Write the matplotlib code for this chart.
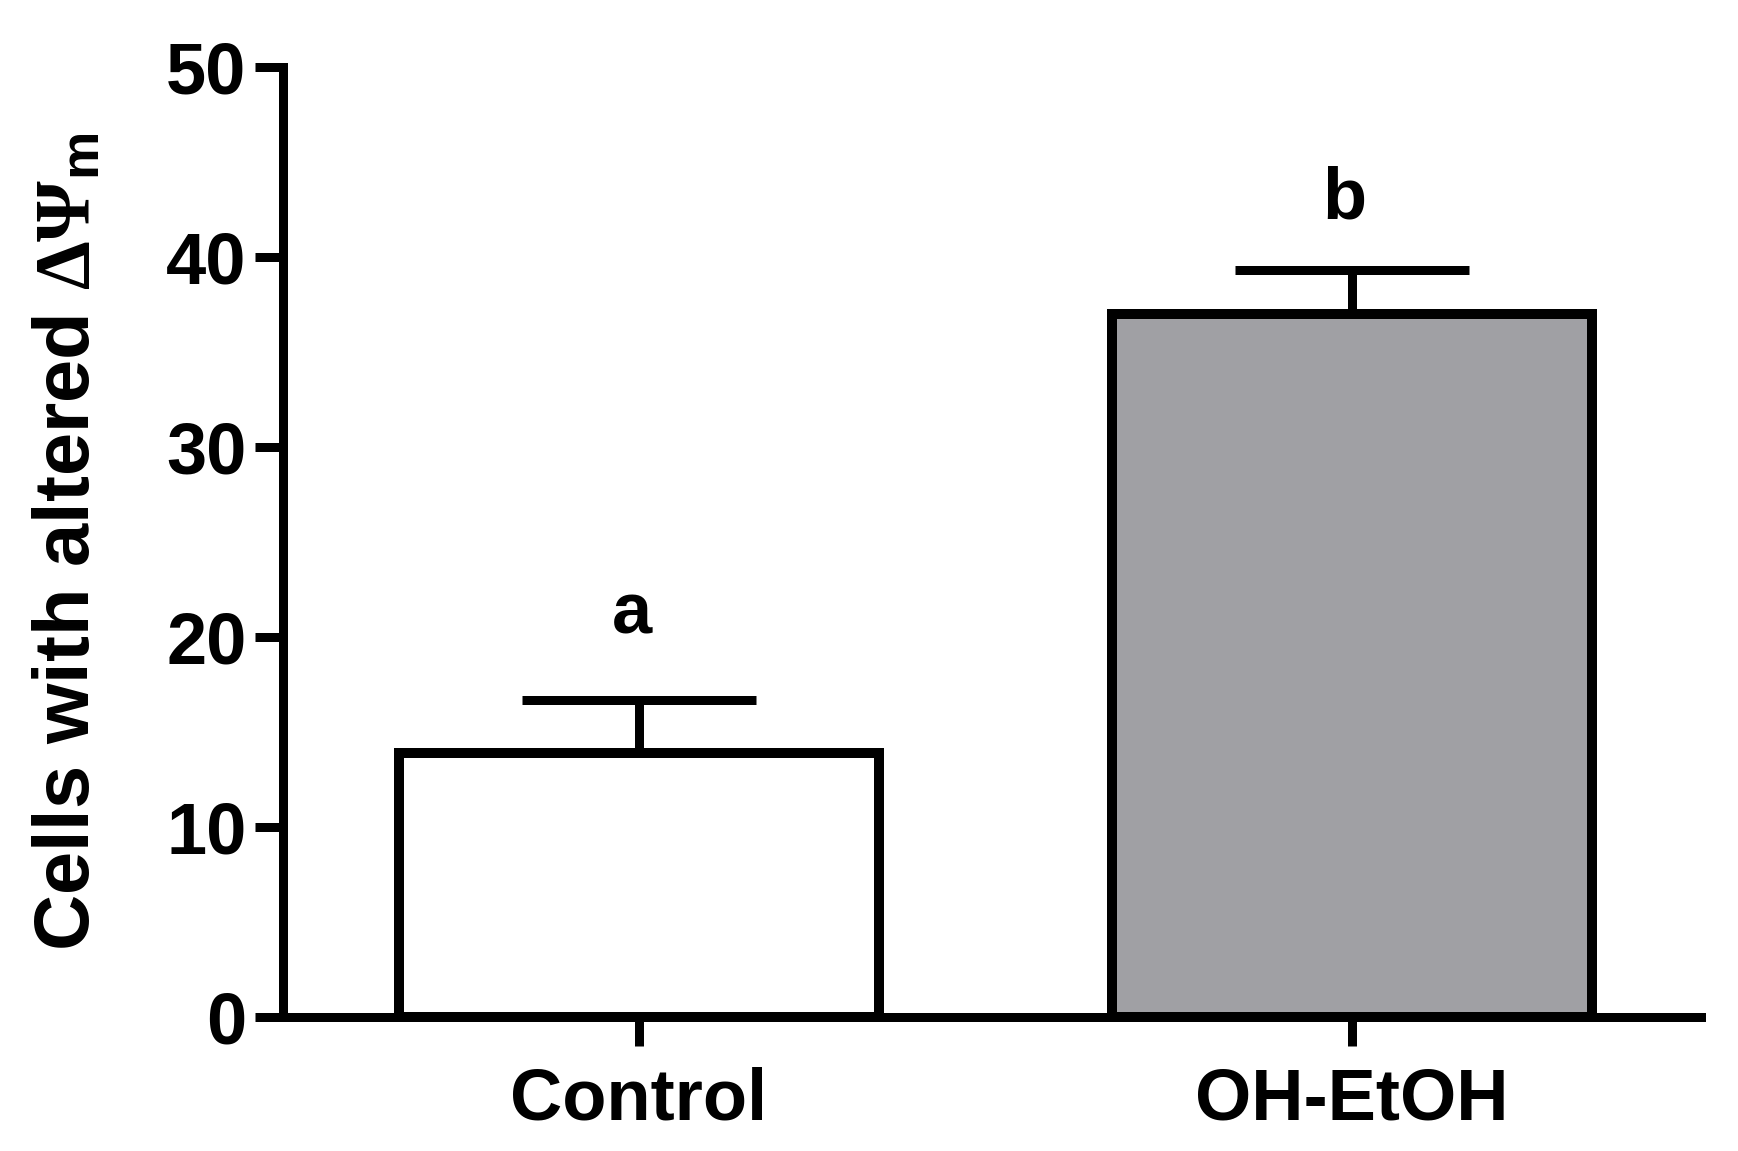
import numpy as np
import matplotlib.pyplot as plt

# Datos
grupos = ['Control', 'OH-EtOH']
medias = [13.9, 37.0]
errores = [2.8, 2.3]
letras = ['a', 'b']
letras_y = [20.2, 42.0]
colores = ['white', '#a0a0a4']
yticks = [0, 10, 20, 30, 40, 50]

plt.rcParams['font.family'] = ['Liberation Sans', 'DejaVu Sans']
plt.rcParams['font.weight'] = 'bold'
plt.rcParams['mathtext.fontset'] = 'custom'
plt.rcParams['mathtext.rm'] = 'Liberation Serif'
plt.rcParams['mathtext.it'] = 'Liberation Serif:italic'
plt.rcParams['mathtext.bf'] = 'Liberation Sans:bold'

fig = plt.figure(figsize=(17.38, 11.51), dpi=100)
ax = fig.add_axes([0.1626, 0.116, 0.8162, 0.826])

x = np.arange(len(grupos))
lw = 7.2
ax.bar(x, medias, width=0.674, color=colores, edgecolor='black', linewidth=lw,
       yerr=[np.zeros(len(errores)), errores],
       error_kw=dict(ecolor='black', elinewidth=lw * 0.9, capsize=84, capthick=lw * 0.9),
       zorder=3)

for xi, letra, ly in zip(x, letras, letras_y):
    ax.text(xi - 0.01, ly, letra, ha='center', va='baseline', fontsize=52, fontweight='bold')

ax.set_xlim(-0.5, 1.49)
ax.set_ylim(0, 50)
ax.set_yticks(yticks)
ax.set_xticks(x)
ax.set_xticklabels(grupos)

for s in ['top', 'right']:
    ax.spines[s].set_visible(False)
for s in ['left', 'bottom']:
    ax.spines[s].set_linewidth(lw * 0.9)

ax.tick_params(axis='y', direction='out', length=20, width=lw * 0.9, labelsize=52, pad=6)
ax.tick_params(axis='x', direction='out', length=21, width=lw * 0.9, labelsize=52, pad=14)

ax.set_ylabel(r'Cells with altered $\Delta\Psi_{\mathbf{m}}$', fontsize=56, fontweight='bold')
ax.yaxis.set_label_coords(-0.125, 0.5)

fig.savefig('out.png', dpi=100)
